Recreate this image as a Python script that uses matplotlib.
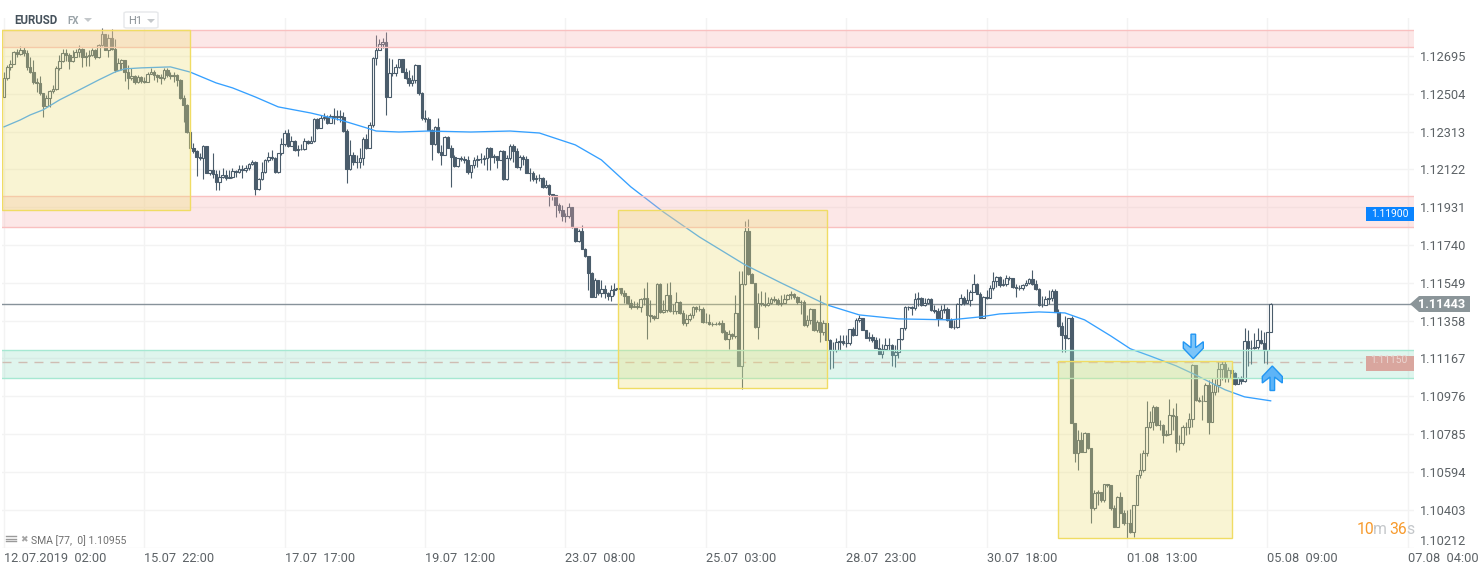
"""EURUSD H1 candle chart with zones, SMA line and marked boxes."""

import numpy as np
import matplotlib.pyplot as plt
from matplotlib.patches import FancyBboxPatch, Polygon, Rectangle

plt.switch_backend("Agg")
plt.rcParams["font.family"] = ["Roboto", "DejaVu Sans"]

W, H = 1482, 574

# prices are kept as points above 1.10000
BASE = 1.1
POINT = 1e-5

closes = [
    2584, 2640, 2655, 2715, 2705, 2726, 2710, 2640, 2614, 2564,
    2559, 2508, 2443, 2483, 2518, 2529, 2635, 2670, 2710, 2700,
    2670, 2690, 2715, 2731, 2690, 2695, 2700, 2726, 2690, 2751,
    2806, 2726, 2786, 2731, 2624, 2660, 2675, 2614, 2584, 2594,
    2564, 2589, 2569, 2564, 2604, 2614, 2599, 2589, 2584, 2624,
    2599, 2594, 2599, 2574, 2483, 2448, 2311, 2231, 2215, 2185,
    2180, 2241, 2104, 2120, 2099, 2059, 2084, 2094, 2079, 2084,
    2114, 2109, 2125, 2120, 2130, 2150, 2160, 2023, 2074, 2109,
    2170, 2185, 2180, 2109, 2205, 2251, 2306, 2241, 2266, 2220,
    2226, 2226, 2266, 2256, 2266, 2377, 2332, 2382, 2387, 2357,
    2392, 2387, 2392, 2387, 2316, 2125, 2195, 2160, 2160, 2180,
    2276, 2231, 2347, 2685, 2726, 2756, 2766, 2488, 2609, 2609,
    2640, 2680, 2614, 2584, 2559, 2574, 2650, 2508, 2382, 2377,
    2321, 2251, 2337, 2210, 2195, 2286, 2231, 2185, 2140, 2180,
    2175, 2170, 2109, 2145, 2170, 2175, 2175, 2180, 2231, 2185,
    2190, 2170, 2215, 2074, 2180, 2241, 2215, 2135, 2185, 2175,
    2104, 2104, 2074, 2079, 2079, 2034, 2044, 1998, 1993, 1943,
    1917, 1887, 1887, 1933, 1832, 1761, 1811, 1721, 1685, 1599,
    1478, 1564, 1498, 1519, 1498, 1483, 1514, 1519, 1524, 1498,
    1483, 1448, 1428, 1433, 1428, 1468, 1473, 1387, 1382, 1372,
    1544, 1402, 1412, 1488, 1407, 1407, 1453, 1397, 1347, 1367,
    1387, 1428, 1418, 1418, 1352, 1352, 1342, 1342, 1342, 1347,
    1301, 1266, 1291, 1281, 1397, 1130, 1544, 1811, 1594, 1549,
    1327, 1448, 1443, 1438, 1448, 1468, 1463, 1443, 1448, 1468,
    1488, 1493, 1478, 1453, 1453, 1337, 1362, 1418, 1312, 1352,
    1301, 1347, 1261, 1210, 1210, 1251, 1256, 1246, 1246, 1317,
    1286, 1362, 1372, 1312, 1271, 1276, 1261, 1221, 1190, 1216,
    1236, 1236, 1185, 1200, 1266, 1322, 1428, 1428, 1423, 1468,
    1473, 1438, 1448, 1468, 1412, 1407, 1372, 1412, 1418, 1362,
    1327, 1327, 1443, 1473, 1448, 1463, 1503, 1544, 1493, 1372,
    1478, 1473, 1524, 1559, 1579, 1539, 1544, 1574, 1574, 1529,
    1524, 1524, 1539, 1549, 1569, 1544, 1519, 1438, 1438, 1468,
    1473, 1508, 1402, 1332, 1286, 1271, 1372, 842, 690, 756,
    695, 791, 716, 413, 488, 493, 453, 534, 529, 413,
    317, 468, 387, 337, 337, 291, 428, 579, 604, 690,
    822, 847, 923, 832, 832, 781, 786, 882, 877, 741,
    741, 822, 822, 862, 1135, 958, 953, 953, 1034, 847,
    998, 1034, 1115, 1140, 1069, 1110, 1094, 1039, 1069, 1054,
    1256, 1221, 1221, 1226, 1261, 1246, 1210, 1301, 1443,
]
highs = [
    2614, 2650, 2675, 2720, 2731, 2746, 2741, 2726, 2690, 2675,
    2584, 2594, 2508, 2498, 2523, 2549, 2645, 2700, 2731, 2731,
    2710, 2726, 2731, 2751, 2736, 2715, 2726, 2736, 2731, 2756,
    2837, 2806, 2806, 2832, 2781, 2685, 2680, 2675, 2650, 2635,
    2599, 2599, 2594, 2589, 2614, 2635, 2624, 2604, 2604, 2635,
    2635, 2614, 2614, 2604, 2579, 2498, 2453, 2321, 2256, 2220,
    2205, 2246, 2241, 2120, 2205, 2120, 2120, 2130, 2120, 2120,
    2130, 2120, 2145, 2145, 2145, 2155, 2170, 2165, 2079, 2160,
    2175, 2210, 2220, 2185, 2205, 2281, 2321, 2327, 2291, 2271,
    2246, 2251, 2281, 2271, 2291, 2382, 2382, 2397, 2407, 2397,
    2402, 2433, 2423, 2423, 2412, 2327, 2271, 2210, 2195, 2231,
    2286, 2301, 2362, 2690, 2801, 2781, 2786, 2816, 2685, 2680,
    2655, 2680, 2680, 2635, 2624, 2599, 2655, 2650, 2513, 2423,
    2387, 2327, 2342, 2382, 2246, 2291, 2291, 2246, 2195, 2180,
    2190, 2190, 2190, 2145, 2185, 2195, 2205, 2195, 2236, 2236,
    2200, 2190, 2220, 2220, 2195, 2251, 2251, 2231, 2195, 2195,
    2190, 2130, 2114, 2094, 2099, 2084, 2069, 2049, 1998, 1993,
    1953, 1943, 1902, 1953, 1933, 1832, 1822, 1842, 1726, 1685,
    1604, 1574, 1564, 1564, 1539, 1503, 1539, 1549, 1524, 1524,
    1514, 1483, 1468, 1458, 1453, 1473, 1524, 1554, 1463, 1387,
    1549, 1549, 1463, 1549, 1554, 1443, 1503, 1458, 1412, 1392,
    1397, 1433, 1433, 1438, 1428, 1397, 1392, 1352, 1352, 1357,
    1362, 1312, 1312, 1296, 1488, 1609, 1609, 1862, 1872, 1599,
    1549, 1498, 1508, 1503, 1478, 1478, 1483, 1473, 1488, 1493,
    1493, 1508, 1498, 1483, 1463, 1463, 1387, 1423, 1418, 1362,
    1488, 1362, 1312, 1266, 1251, 1271, 1286, 1286, 1286, 1317,
    1327, 1372, 1387, 1362, 1312, 1301, 1291, 1276, 1271, 1241,
    1271, 1271, 1241, 1236, 1266, 1322, 1433, 1433, 1433, 1498,
    1503, 1478, 1473, 1473, 1473, 1438, 1423, 1438, 1443, 1428,
    1372, 1362, 1448, 1493, 1483, 1519, 1514, 1594, 1549, 1503,
    1483, 1514, 1539, 1604, 1584, 1584, 1569, 1589, 1584, 1574,
    1544, 1539, 1544, 1564, 1574, 1614, 1564, 1524, 1483, 1483,
    1514, 1519, 1519, 1418, 1352, 1382, 1372, 1382, 842, 807,
    796, 796, 791, 716, 504, 504, 493, 534, 534, 529,
    428, 473, 493, 403, 403, 408, 428, 579, 690, 705,
    953, 902, 933, 928, 857, 837, 807, 963, 918, 943,
    781, 832, 847, 892, 1140, 1135, 973, 983, 1044, 1059,
    1069, 1064, 1150, 1155, 1155, 1125, 1130, 1099, 1074, 1079,
    1322, 1312, 1261, 1296, 1322, 1312, 1301, 1301, 1448,
]
lows = [
    2488, 2574, 2624, 2655, 2690, 2700, 2695, 2624, 2609, 2554,
    2513, 2498, 2387, 2438, 2438, 2508, 2523, 2624, 2665, 2670,
    2630, 2665, 2690, 2690, 2640, 2645, 2645, 2695, 2680, 2685,
    2746, 2726, 2690, 2726, 2614, 2624, 2624, 2569, 2529, 2574,
    2554, 2559, 2559, 2559, 2564, 2604, 2574, 2564, 2554, 2574,
    2589, 2579, 2564, 2544, 2478, 2362, 2306, 2226, 2205, 2089,
    2170, 2074, 2104, 2094, 2079, 2018, 2018, 2079, 2069, 2079,
    2079, 2084, 2104, 2079, 2109, 2120, 2145, 1993, 2018, 2069,
    2104, 2160, 2170, 2104, 2104, 2195, 2241, 2236, 2241, 2215,
    2190, 2220, 2220, 2251, 2256, 2261, 2327, 2357, 2372, 2352,
    2362, 2352, 2372, 2362, 2311, 2054, 2120, 2145, 2130, 2130,
    2145, 2226, 2231, 2337, 2650, 2726, 2736, 2397, 2488, 2594,
    2594, 2635, 2614, 2579, 2544, 2544, 2559, 2498, 2372, 2362,
    2321, 2170, 2246, 2205, 2145, 2195, 2231, 2034, 2135, 2135,
    2165, 2155, 2099, 2079, 2130, 2135, 2155, 2145, 2120, 2120,
    2155, 2130, 2170, 2069, 2069, 2170, 2160, 2130, 2120, 2145,
    2104, 2064, 2064, 2054, 2064, 2029, 2029, 1938, 1968, 1882,
    1902, 1862, 1857, 1877, 1827, 1756, 1756, 1721, 1680, 1514,
    1478, 1478, 1488, 1478, 1473, 1463, 1458, 1488, 1508, 1488,
    1448, 1443, 1418, 1428, 1418, 1402, 1438, 1266, 1352, 1362,
    1372, 1397, 1397, 1402, 1402, 1392, 1392, 1392, 1337, 1332,
    1357, 1372, 1402, 1407, 1347, 1347, 1337, 1332, 1337, 1337,
    1296, 1261, 1216, 1266, 1271, 1130, 1014, 1539, 1589, 1549,
    1322, 1266, 1433, 1428, 1433, 1443, 1453, 1438, 1433, 1448,
    1463, 1468, 1468, 1443, 1392, 1332, 1327, 1342, 1306, 1301,
    1251, 1286, 1261, 1115, 1120, 1200, 1210, 1236, 1226, 1236,
    1281, 1286, 1352, 1312, 1271, 1256, 1251, 1221, 1190, 1170,
    1210, 1210, 1130, 1125, 1170, 1261, 1312, 1412, 1387, 1412,
    1433, 1433, 1433, 1443, 1407, 1397, 1332, 1367, 1397, 1357,
    1322, 1317, 1322, 1438, 1438, 1448, 1433, 1503, 1493, 1372,
    1372, 1468, 1483, 1514, 1529, 1529, 1534, 1534, 1564, 1524,
    1478, 1514, 1514, 1534, 1544, 1539, 1514, 1433, 1428, 1438,
    1443, 1458, 1402, 1327, 1200, 1200, 1266, 842, 645, 604,
    695, 695, 711, 337, 403, 428, 443, 443, 519, 403,
    317, 317, 387, 327, 261, 286, 266, 428, 564, 594,
    675, 817, 807, 827, 807, 741, 776, 781, 807, 695,
    705, 731, 781, 786, 822, 953, 948, 857, 953, 786,
    847, 983, 998, 1059, 1049, 1049, 1059, 1034, 1039, 1039,
    1049, 1130, 1140, 1216, 1216, 1241, 1145, 1140, 1301,
]

sma_idx = [
    0, 5, 8, 12, 17, 23, 29, 34, 37, 42, 51, 57, 65, 70, 77, 84, 94, 103, 111,
    114, 121, 130, 143, 155, 164, 175, 183, 192, 202, 213, 227, 238, 252, 262,
    274, 290, 299, 305, 317, 325, 331, 339, 345, 351, 359, 365, 374, 380, 388,
]
sma_pts = [
    2337, 2372, 2397, 2423, 2473, 2523, 2574, 2614, 2630, 2635, 2640, 2614,
    2559, 2534, 2488, 2438, 2407, 2372, 2332, 2316, 2311, 2316, 2311, 2316,
    2306, 2246, 2170, 2034, 1907, 1781, 1640, 1549, 1438, 1387, 1367, 1362,
    1377, 1392, 1402, 1397, 1362, 1281, 1216, 1180, 1130, 1084, 1009, 973, 953,
]

# zones (low, high) in points
red_zones = [(2741, 2826), (1832, 1988)]
green_zone = (1069, 1211)
# marked boxes: first candle, last candle, low, high
box_x0 = [-0.6, 188, 323]
box_x1 = [57, 252, 376]
box_lo = [1917, 1019, 261]
box_hi = [2826, 1917, 1155]

last_price = 1.11443
pending_price = 1.11150
alert_price = 1.11900

y_ticks = [
    1.12695, 1.12504, 1.12313, 1.12122, 1.11931, 1.11740, 1.11549, 1.11358,
    1.11167, 1.10976, 1.10785, 1.10594, 1.10403, 1.10212,
]
x_tick_idx = [0, 43, 86, 129, 172, 215, 258, 301, 344, 387, 430]
x_labels = [
    "12.07.2019  02:00", "15.07  22:00", "17.07  17:00", "19.07  12:00",
    "23.07  08:00", "25.07  03:00", "28.07  23:00", "30.07  18:00",
    "01.08  13:00", "05.08  09:00", "07.08  04:00",
]


def price(pts):
    return BASE + np.asarray(pts, dtype=float) * POINT


def fx(px):
    return px / W


def fy(py):
    return 1 - py / H


DARK = "#4a5c6b"
c = price(closes)
o = np.r_[c[0] - 19 * 5.05 * POINT, c[:-1]]
hi = price(highs)
lo = price(lows)
idx = np.arange(len(c))
up = c >= o

fig = plt.figure(figsize=(W / 100, H / 100), dpi=100, facecolor="white")
ax = fig.add_axes([fx(2), 1 - 547.5 / H, (1414 - 2) / W, (547.5 - 18) / H])
ax.set_xlim(-0.6, 431.9)
ax.set_ylim(price(216), price(2887))
for s in ax.spines.values():
    s.set_visible(False)

ax.set_yticks(y_ticks)
ax.set_yticklabels([f"{v:.5f}" for v in y_ticks])
ax.yaxis.tick_right()
ax.tick_params(axis="y", length=0, pad=4.5, labelsize=9.2, labelcolor="#5c6266")
ax.get_yticklabels()[-1].set_verticalalignment("bottom")
ax.set_xticks(x_tick_idx)
ax.set_xticklabels(x_labels, ha="left")
ax.tick_params(axis="x", length=0, pad=3.5, labelsize=9.2, labelcolor="#5c6266")
ax.grid(True, color="#f3f3f3", lw=1, zorder=0)
ax.set_axisbelow(True)

ax.axhline(last_price, color="#87929a", lw=1, zorder=1.5)
ax.plot([-0.6, 416], [pending_price, pending_price], color="#e8b0ac", lw=1,
        ls=(0, (6.5, 5)), zorder=1.5)

ax.vlines(idx, lo, hi, color=DARK, lw=0.8, zorder=2)
ax.bar(idx, np.abs(c - o), bottom=np.minimum(c, o), width=0.8, lw=0.8,
       facecolor=["white" if u else DARK for u in up], edgecolor=DARK, zorder=3)

ax.plot(sma_idx, price(sma_pts), color="#35a0ff", lw=0.95, zorder=4)

for a, b in red_zones:
    ax.axhspan(price(a), price(b), facecolor="#f8b2b2", alpha=0.3, lw=0, zorder=5)
    ax.axhline(price(a), color="#f9c0c0", lw=1, zorder=5)
    ax.axhline(price(b), color="#f9c0c0", lw=1, zorder=5)
ax.axhspan(price(green_zone[0]), price(green_zone[1]), facecolor="#98dec6",
           alpha=0.3, lw=0, zorder=5)
ax.axhline(price(green_zone[0]), color="#a6e8d2", lw=1, zorder=5)
ax.axhline(price(green_zone[1]), color="#a6e8d2", lw=1, zorder=5)

for x0, x1, y0, y1 in zip(box_x0, box_x1, box_lo, box_hi):
    ax.add_patch(Rectangle((x0, price(y0)), x1 - x0, price(y1) - price(y0),
                           facecolor="#eee07a", alpha=0.33, lw=0, zorder=6))
    ax.add_patch(Rectangle((x0, price(y0)), x1 - x0, price(y1) - price(y0),
                           fill=False, edgecolor="#f0dc64", lw=1, zorder=6))

# price flags on the right edge
fig.add_artist(Rectangle((fx(1366), fy(221)), 48 / W, 14 / H, color="#0a84ff", lw=0))
fig.text(fx(1390), fy(214), "1.11900", color="white", fontsize=7.4,
         ha="center", va="center")
fig.add_artist(Rectangle((fx(1366), fy(371)), 48 / W, 15 / H, color="#d9a69e", lw=0))
fig.text(fx(1389), fy(360), "1.11150", color="#ecd6d2", fontsize=7.4,
         ha="center", va="center")
fig.add_artist(Polygon([(fx(1410), fy(304)), (fx(1419), fy(296)), (fx(1470), fy(296)),
                        (fx(1470), fy(312)), (fx(1419), fy(312))],
                       closed=True, color="#8b9599", lw=0, zorder=7))
fig.text(fx(1441.5), fy(304.3), "1.11443", color="white", fontsize=9.2,
         fontweight="bold", ha="center", va="center", zorder=8)


def arrow(cx, tip, direction, face):
    # direction: +1 points down, -1 points up
    d = direction
    pts = [(-2.3, -24.5), (2.3, -24.5), (2.3, -11), (10, -17), (10, -10.5),
           (0, 0), (-10, -10.5), (-10, -17), (-2.3, -11)]
    poly = [(fx(cx + a), fy(tip + d * b)) for a, b in pts]
    fig.add_artist(Polygon(poly, closed=True, facecolor=face, edgecolor="#2196f3",
                           lw=1, zorder=9))


arrow(1193.3, 358.7, 1, "#7cc4f8")
arrow(1272.3, 366, -1, "#5db4f7")

# header
fig.text(fx(14), fy(20), "EURUSD", color="#46525c", fontsize=8.3, fontweight="bold",
         va="center")
fig.text(fx(67), fy(20.5), "FX", color="#9aa3a8", fontsize=7, fontweight="bold",
         va="center")
fig.add_artist(Polygon([(fx(84), fy(18)), (fx(92), fy(18)), (fx(88), fy(22))],
                       closed=True, color="#c4c8cb", lw=0))
fig.add_artist(FancyBboxPatch((fx(124), fy(28)), 34 / W, 16 / H, transform=fig.transFigure,
                              boxstyle="round,pad=0,rounding_size=0.002",
                              facecolor="white", edgecolor="#e6e8ea", lw=1, zorder=7))
fig.text(fx(128), fy(20.5), "H1", color="#8a9196", fontsize=8, va="center", zorder=8)
fig.add_artist(Polygon([(fx(147), fy(19)), (fx(155), fy(19)), (fx(151), fy(23))],
                       closed=True, color="#c4c8cb", lw=0, zorder=8))

# indicator legend
for py in (536, 538.5, 541):
    fig.add_artist(plt.Line2D([fx(6), fx(16)], [fy(py), fy(py)], color="#9a9a9a", lw=1))
fig.text(fx(20), fy(540), "\u2716", color="#a5a5a5", fontsize=6.5, ha="left",
         va="center", family=["DejaVu Sans"])
fig.text(fx(31), fy(541), "SMA [77,  0] 1.10955", color="#6f6f6f", fontsize=7.5,
         va="center")

# countdown
for px, txt, col in [(1357, "10", "#f79a2c"), (1372.5, "m", "#c4c7ca"),
                     (1389.5, "36", "#f79a2c"), (1406.5, "s", "#c4c7ca")]:
    fig.text(fx(px), fy(529), txt, color=col, fontsize=11.3, va="center")

fig.savefig("out.png", dpi=100)
